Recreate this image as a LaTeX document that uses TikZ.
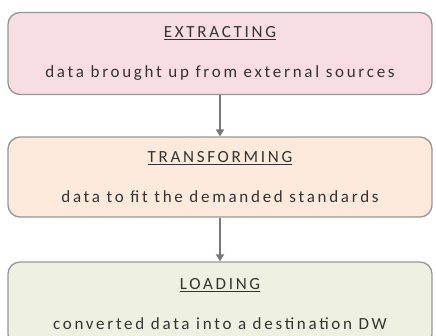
\documentclass[tikz,border=0pt]{standalone}
\usepackage{fontspec}
\setmainfont{Carlito}[LetterSpace=16]
\usetikzlibrary{arrows.meta, positioning}
\definecolor{extractpink}{RGB}{248, 221, 226}
\definecolor{transformpeach}{RGB}{253, 234, 220}
\definecolor{loadgreen}{RGB}{238, 241, 226}
\definecolor{boxborder}{RGB}{150, 150, 150}
\definecolor{flowgray}{RGB}{120, 120, 120}

\begin{document}
\begin{tikzpicture}[
    x=1pt, y=1pt,
    phase/.style={rectangle, rounded corners=12pt, draw=boxborder, line width=1.3pt, minimum width=424pt, align=center, font=\fontsize{17}{40}\selectfont, text=black!80},
    flow/.style={line width=2.8pt, flowgray, -{Triangle[width=8pt, length=7pt]}}
]
\useasboundingbox (0, 0) rectangle (436, -336);

% Phasen
\node[phase, fill=extractpink, minimum height=82pt] (extract) at (220, -53.5) {\underline{EXTRACTING}\\data brought up from external sources};
\node[phase, fill=transformpeach, minimum height=80pt] (transform) at (220, -177) {\underline{TRANSFORMING}\\data to fit the demanded standards};
\node[phase, fill=loadgreen, minimum height=84pt] (load) at (220, -304) {\underline{LOADING}\\converted data into a destination DW};

% Pfeile
\draw[flow] (extract) -- (transform);
\draw[flow] (transform) -- (load);

\end{tikzpicture}
\end{document}
